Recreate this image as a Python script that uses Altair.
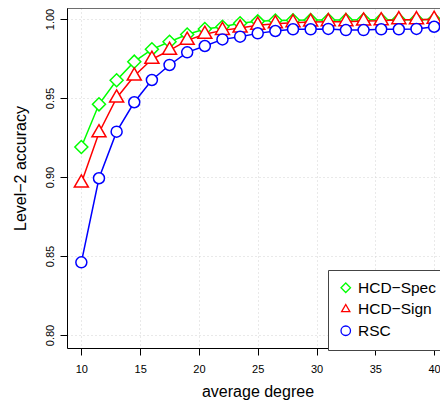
import altair as alt
import pandas as pd

degree = [10, 11.5, 13, 14.5, 16, 17.5, 19, 20.5, 22, 23.5, 25,
          26.5, 28, 29.5, 31, 32.5, 34, 35.5, 37, 38.5, 40]
hcd_spec = [0.9190, 0.9460, 0.9612, 0.9730, 0.9808, 0.9856, 0.9902, 0.9937, 0.9951, 0.9973, 0.9985,
            0.9990, 0.9992, 0.9993, 0.9994, 0.9994, 0.9995, 0.9995, 0.9996, 0.9996, 0.9997]
hcd_sign = [0.8962, 0.9280, 0.9500, 0.9639, 0.9745, 0.9802, 0.9865, 0.9903, 0.9928, 0.9943, 0.9960,
            0.9970, 0.9977, 0.9981, 0.9983, 0.9983, 0.9987, 0.9989, 0.9996, 0.9996, 0.9998]
rsc = [0.8460, 0.8992, 0.9287, 0.9473, 0.9614, 0.9709, 0.9789, 0.9829, 0.9871, 0.9888, 0.9909,
       0.9924, 0.9935, 0.9935, 0.9937, 0.9930, 0.9930, 0.9935, 0.9935, 0.9937, 0.9951]

series_names = ["HCD\u2212Spec", "HCD\u2212Sign", "RSC"]
series_values = [hcd_spec, hcd_sign, rsc]
series_colors = ["#00FF00", "#FF0000", "#0000FF"]
tri_path = "M0,-1L0.866,0.5L-0.866,0.5Z"
series_shapes = ["diamond", tri_path, "circle"]
series_sizes = [169, 262, 121]

x_ticks = [10, 15, 20, 25, 30, 35, 40]
y_ticks = [0.80, 0.85, 0.90, 0.95, 1.00]

rows = []
for name, vals in zip(series_names, series_values):
    for d, v in zip(degree, vals):
        rows.append({"degree": d, "acc": v, "series": name})
df = pd.DataFrame(rows)

FONT = "Liberation Sans"
W, H = 373, 340

x_enc = alt.X(
    "degree:Q",
    scale=alt.Scale(domain=[8.78, 40.50], nice=False, zero=False),
    axis=alt.Axis(
        values=x_ticks, format="d", title="average degree",
        labelFont=FONT, labelFontSize=11, labelColor="black", labelPadding=8,
        labelFlush=False, labelOverlap=False,
        tickSize=7, tickColor="black", tickWidth=1,
        domain=True, domainColor="black", domainWidth=1,
        grid=True, gridColor="#D3D3D3", gridDash=[1, 3], gridWidth=1,
        titleFont=FONT, titleFontSize=16, titleFontWeight="normal", titleColor="black",
        titleX=190.5, titleY=48.5, titleAlign="center", titleBaseline="alphabetic",
    ),
)
y_enc = alt.Y(
    "acc:Q",
    scale=alt.Scale(domain=[0.79177, 1.00696], nice=False, zero=False),
    axis=alt.Axis(
        values=y_ticks, format=".2f", title="Level\u22122 accuracy",
        labelFont=FONT, labelFontSize=11, labelColor="black", labelPadding=16,
        labelAngle=270, labelAlign="center", labelBaseline="top",
        labelFlush=False, labelOverlap=False,
        tickSize=7, tickColor="black", tickWidth=1,
        domain=True, domainColor="black", domainWidth=1,
        grid=True, gridColor="#D3D3D3", gridDash=[1, 3], gridWidth=1,
        titleFont=FONT, titleFontSize=16, titleFontWeight="normal", titleColor="black",
        titleAngle=270, titleX=-47, titleY=160, titleAlign="center", titleBaseline="middle",
    ),
)

stroke_scale = alt.Scale(domain=series_names, range=series_colors)
shape_scale = alt.Scale(domain=series_names, range=series_shapes)

legend = alt.Legend(
    title=None, orient="none", legendX=261, legendY=262,
    fillColor="white", strokeColor="#444444", padding=10,
    labelFont=FONT, labelFontSize=15.5, labelColor="black", labelOffset=4.5,
    symbolSize=90, symbolStrokeWidth=1.3, rowPadding=4.5,
)

layers = []
for name, size in zip(series_names, series_sizes):
    base = alt.Chart(df).transform_filter(alt.datum.series == name)
    line = base.mark_line(strokeWidth=1.5).encode(
        x=x_enc, y=y_enc,
        stroke=alt.Stroke("series:N", scale=stroke_scale, legend=legend),
    )
    pts = base.transform_calculate(msize=str(size)).mark_point(
        filled=False, fill="white", strokeWidth=1.5, opacity=1
    ).encode(
        x=x_enc, y=y_enc,
        stroke=alt.Stroke("series:N", scale=stroke_scale, legend=legend),
        shape=alt.Shape("series:N", scale=shape_scale, legend=legend),
        size=alt.Size("msize:Q", scale=None, legend=None),
    )
    layers += [line, pts]

frame = pd.DataFrame({"k": [0]})
top_rule = alt.Chart(frame).mark_rule(color="black", strokeWidth=1).encode(
    x=alt.value(0), x2=alt.value(W), y=alt.value(0)
)
layers.append(top_rule)

chart = alt.layer(*layers).properties(
    width=W, height=H,
    autosize=alt.AutoSizeParams(type="none"),
    padding={"left": 59, "top": 0, "right": 0, "bottom": 56},
).configure_view(stroke=None).configure(background="white")

chart.save("out.html", embed_options={"renderer": "svg", "actions": False})
